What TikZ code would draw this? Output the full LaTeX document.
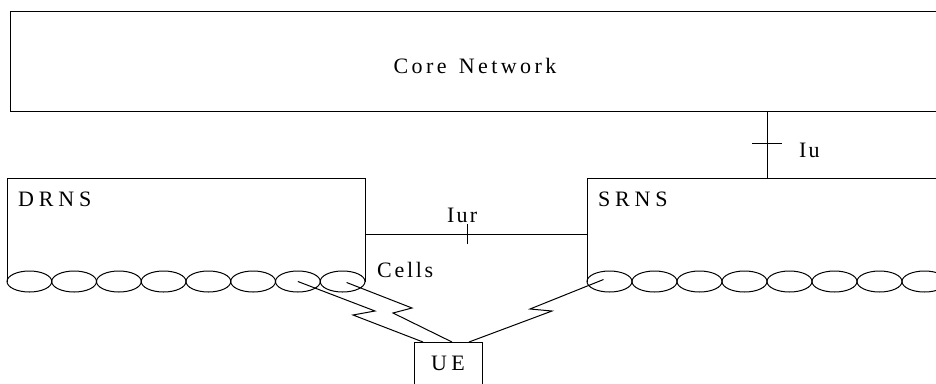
\documentclass[tikz,border=0pt]{standalone}
\usepackage{fontspec}
\setmainfont{Liberation Serif}
\usetikzlibrary{shapes.geometric,calc}
\makeatletter
\newcommand\lsp[2]{\def\lsp@k{#1}\lsp@first#2\relax}
\def\lsp@first#1{#1\lsp@go}
\def\lsp@go#1{\ifx#1\relax\else\kern\lsp@k\relax #1\expandafter\lsp@go\fi}
\makeatother
\tikzset{
  box/.style={draw, line width=1pt, rectangle, inner sep=0pt, anchor=north west},
  area/.style={rectangle, inner sep=0pt, anchor=north west},
  cell/.style={draw, line width=1pt, ellipse, inner sep=0pt, minimum height=21pt},
  lbl/.style={inner sep=0pt, font=\fontsize{22}{26}\selectfont, text=black},
  wire/.style={line width=1pt},
}
\begin{document}
\begin{tikzpicture}[x=1pt,y=-1pt]
\useasboundingbox (0,0) rectangle (936,383);
% boxes
\node[box, minimum width=940pt, minimum height=100pt] (core) at (10,11) {};
\node[area, minimum width=358pt, minimum height=104pt] (drns) at (7,178) {};
\node[area, minimum width=400pt, minimum height=104pt] (srns) at (587,178) {};
\draw[wire] (drns.south west) -- (drns.north west) -- (drns.north east) -- (drns.south east);
\draw[wire] (srns.south west) -- (srns.north west) -- (srns.north east);
\node[box, minimum width=68pt, minimum height=60pt] (ue) at (414,342) {};
% cells
\foreach \i in {0,...,7}{
  \node[cell, minimum width=44.75pt] (d\i) at (7+22.375+44.75*\i,281.5) {};
}
\foreach \i in {0,...,8}{
  \node[cell, minimum width=45pt] (s\i) at (587+22.5+45*\i,281.5) {};
}
% labels
\node[lbl, anchor=base] (corelbl) at (475,73) {\lsp{3.4pt}{Core~Network}};
\node[lbl, anchor=base west] (drnslbl) at (18,206) {\lsp{4.8pt}{DRNS}};
\node[lbl, anchor=base west] (srnslbl) at (598,206) {\lsp{4.8pt}{SRNS}};
\node[lbl, anchor=base west] (cellslbl) at (377,277) {\lsp{2.7pt}{Cells}};
\node[lbl, anchor=base west] (iurlbl) at (447,222) {\lsp{2.2pt}{Iur}};
\node[lbl, anchor=base west] (iulbl) at (799,157) {\lsp{2pt}{Iu}};
\node[lbl, anchor=base west] (uelbl) at (431,370) {\lsp{4.2pt}{UE}};
% Iu interface
\coordinate (iux) at (767,0);
\draw[wire] (iux |- core.south) -- (iux |- srns.north);
\coordinate (iutick) at (767,143);
\draw[wire] ($(iutick)+(-15,0)$) -- ($(iutick)+(15,0)$);
% Iur interface
\coordinate (iury) at (0,234);
\draw[wire] (drns.east |- iury) -- (srns.west |- iury);
\coordinate (iurtick) at (467,234);
\draw[wire] ($(iurtick)+(0,-10)$) -- ($(iurtick)+(0,10)$);
% radio links
\coordinate (ue1) at (423,342);
\coordinate (ue2) at (452,342);
\coordinate (ue3) at (469,342);
\draw[wire] (d6.center) -- (375,311) -- (353,315) -- (ue1);
\draw[wire] ($(d7.center)+(4,1)$) -- (412,308) -- (393,313) -- (ue2);
\draw[wire] ($(s0.center)+(-6,-2)$) -- (530,309) -- (552,311) -- (ue3);
\end{tikzpicture}
\end{document}
